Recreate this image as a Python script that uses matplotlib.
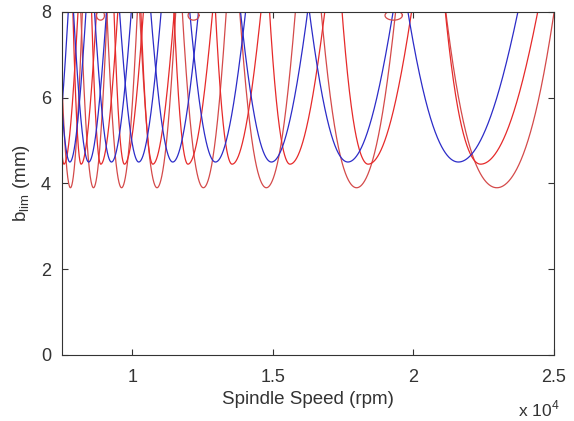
import numpy as np
import matplotlib
matplotlib.use('Agg')
import matplotlib.pyplot as plt

# ---- data ----
# lobe minimum spindle speeds (rpm), lobe phase numbers (n + eps/2pi), minimum depth (mm)
blue_speeds = [21600, 17670, 14950, 12960, 11440, 10230, 9260, 8450, 7780, 7200]
blue_m      = [4.5, 5.5, 6.5, 7.5, 8.5, 9.5, 10.5, 11.5, 12.5, 13.5]
blue_bmin   = 4.5

red1_speeds = [22970, 17980, 14770, 12530, 10880, 9620, 8620, 7800, 7130]
red1_m      = [3.6, 4.6, 5.6, 6.6, 7.6, 8.6, 9.6, 10.6, 11.6]
red1_bmin   = 3.9

red2_speeds = [22390, 18390, 15610, 13550, 11980, 10730, 9720, 8880, 8180, 7570, 7060]
red2_m      = [4.6, 5.6, 6.6, 7.6, 8.6, 9.6, 10.6, 11.6, 12.6, 13.6, 14.6]
red2_bmin   = 4.45

# small closed loops touching the top of the chart
loop_speeds = [8870, 12180, 19300]
loop_b      = 7.92

xticks = [10000, 15000, 20000, 25000]
xticklabels = ['1', '1.5', '2', '2.5']
yticks = [0, 2, 4, 6, 8]

plt.rcParams['font.family'] = ['Liberation Sans', 'DejaVu Sans']
plt.rcParams['mathtext.fontset'] = 'custom'
plt.rcParams['mathtext.rm'] = 'Liberation Sans'

t = np.linspace(-3.2, 3.2, 1201)

def lobe(s0, m, bmin, al, ar, beta=0.25):
    freq = np.where(t < 0, 1 + al * t, 1 + ar * t)
    phase = m / (m - beta * (2 / np.pi) * np.arctan(t))
    return s0 * freq * phase, bmin * np.sqrt(1 + t ** 2)

fig = plt.figure(figsize=(5.74, 4.21), dpi=100)
ax = fig.add_axes([0.108, 0.157, 0.857, 0.8145])

c_red1 = '#d44a4a'
c_red2 = '#e62a2a'
c_blue = '#2c2cc8'
txt = '#333333'

for s0, m in zip(red1_speeds, red1_m):
    x, y = lobe(s0, m, red1_bmin, 0.020, 0.021)
    ax.plot(x, y, color=c_red1, lw=0.9)
for s0, m in zip(red2_speeds, red2_m):
    x, y = lobe(s0, m, red2_bmin, 0.016, 0.036)
    ax.plot(x, y, color=c_red2, lw=0.9)
for s0, m in zip(blue_speeds, blue_m):
    x, y = lobe(s0, m, blue_bmin, 0.035, 0.041)
    ax.plot(x, y, color=c_blue, lw=0.9)

th = np.linspace(0, 2 * np.pi, 200)
for s in loop_speeds:
    ax.plot(s * (1 + 0.016 * np.cos(th)), loop_b + 0.11 * np.sin(th), color=c_red1, lw=0.9)

ax.set_xlim(7500, 25000)
ax.set_ylim(0, 8)
ax.set_xticks(xticks)
ax.set_xticklabels(xticklabels)
ax.set_yticks(yticks)
ax.tick_params(direction='in', top=True, right=True, length=4, width=0.8,
               labelsize=13, pad=8, colors=txt)
ax.tick_params(axis='x', pad=10)
for sp in ax.spines.values():
    sp.set_linewidth(0.8)
    sp.set_color('#333333')

ax.set_xlabel('Spindle Speed (rpm)', fontsize=13.5, labelpad=4, color=txt)
ax.set_ylabel(r'b$_{\mathrm{lim}}$ (mm)', fontsize=13.5, labelpad=6, color=txt)
fig.text(0.903, 0.012, r'x 10$^{4}$', fontsize=12.5, color=txt)

fig.savefig('out.png', dpi=100)
